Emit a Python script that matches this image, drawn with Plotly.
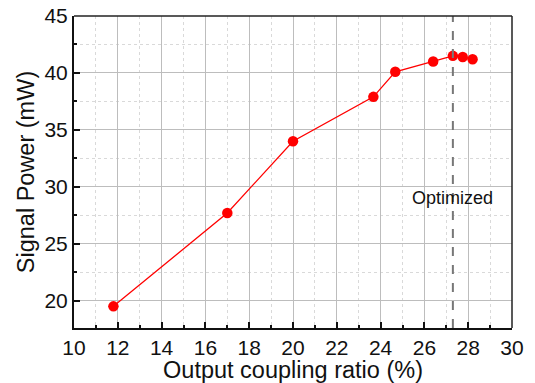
import plotly.graph_objects as go

# Output coupling ratio (%) and measured signal power (mW)
coupling_ratio = [11.8, 17.0, 20.0, 23.67, 24.67, 26.4, 27.3, 27.75, 28.2]
signal_power = [19.5, 27.7, 34.0, 37.9, 40.1, 41.0, 41.5, 41.4, 41.2]

optimized_ratio = 27.3
x_ticks = [10, 12, 14, 16, 18, 20, 22, 24, 26, 28, 30]
y_ticks = [20, 25, 30, 35, 40, 45]

font_family = "Liberation Sans, Arial, sans-serif"

fig = go.Figure()
fig.add_trace(go.Scatter(
    x=coupling_ratio, y=signal_power, mode="lines+markers",
    line=dict(color="#ff0000", width=1.3),
    marker=dict(color="#ff0000", size=10.5),
    showlegend=False,
))

# Dashed marker of the optimized coupling ratio
fig.add_shape(type="line", xref="x", yref="paper",
              x0=optimized_ratio, x1=optimized_ratio, y0=0, y1=1,
              line=dict(color="#777777", width=2, dash="dash"))
fig.add_annotation(x=optimized_ratio, y=29.0, text="Optimized", showarrow=False,
                   font=dict(family=font_family, size=18, color="#111111"))

# Thin top/right frame
fig.add_shape(type="line", xref="paper", yref="paper", x0=0, x1=1, y0=1, y1=1,
              line=dict(color="#222222", width=1.5))
fig.add_shape(type="line", xref="paper", yref="paper", x0=1, x1=1, y0=0, y1=1,
              line=dict(color="#222222", width=1.5))

axis_common = dict(
    showline=True, linecolor="#111111", linewidth=2,
    ticks="inside", ticklen=6, tickwidth=1.5, tickcolor="#111111",
    showgrid=True, gridcolor="#bdbdbd", gridwidth=1,
    zeroline=False, automargin=False,
    tickfont=dict(family=font_family, size=21, color="#111111"),
)

fig.update_xaxes(
    range=[10, 30], tickvals=x_ticks,
    title=dict(text="Output coupling ratio (%)", standoff=2,
               font=dict(family=font_family, size=23.5, color="#111111")),
    minor=dict(dtick=1, ticks="inside", ticklen=3, tickcolor="#111111",
               showgrid=True, gridcolor="#d9d9d9", griddash="dot", gridwidth=1),
    **axis_common,
)
fig.update_yaxes(
    range=[17.6, 45], tickvals=y_ticks,
    title=dict(text="Signal Power (mW)", standoff=3,
               font=dict(family=font_family, size=23.5, color="#111111")),
    minor=dict(dtick=2.5, tick0=0, ticks="inside", ticklen=3, tickcolor="#111111",
               showgrid=True, gridcolor="#d9d9d9", griddash="dot", gridwidth=1),
    **axis_common,
)

fig.update_layout(
    width=535, height=383,
    margin=dict(l=74, r=23, t=16, b=55),
    paper_bgcolor="white", plot_bgcolor="white",
)

fig.write_html("out.html")
